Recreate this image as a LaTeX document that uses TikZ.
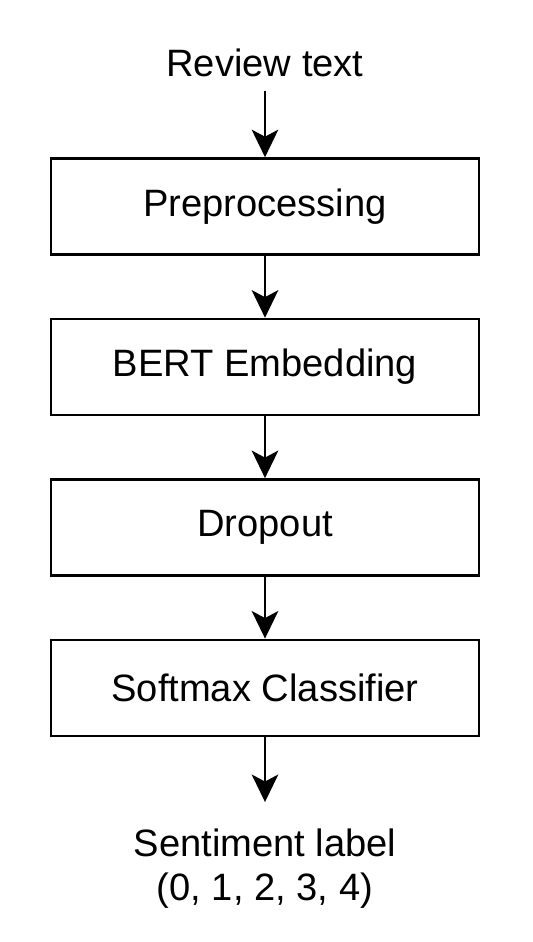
\documentclass[tikz,border=0pt]{standalone}
\usepackage{fontspec}
\setmainfont{Liberation Sans}
\usepackage{tikz}
\usetikzlibrary{positioning, arrows.meta}

\begin{document}
\begin{tikzpicture}
			[node distance=1.24cm, font=\fontsize{21.7}{25}\selectfont,
			stage/.style={draw, rectangle, line width=1.4pt, minimum width=8.56cm, minimum height=1.92cm, text centered},
			flow/.style={-{Stealth[length=5.5mm, width=5.3mm, inset=1.4mm]}, line width=1.4pt}]
			\useasboundingbox (0,0) rectangle (10.64,18.84);
			% nodes %
			\node[text centered] (review) at (5.3,17.58) {Review text};
			\node[stage, below=1.48cm of review] (prep) {Preprocessing};
			\node[stage, below=of prep] (bert) {BERT Embedding};
			\node[stage, below=of bert] (drop) {Dropout};
			\node[stage, below=of drop] (soft) {Softmax Classifier};
			\node[below=1.72cm of soft, align=center] (label) {Sentiment label\\(0, 1, 2, 3, 4)};

			% edges %
			\draw[flow, shorten <=0.15cm] (review) -- (prep);
			\draw[flow] (prep) -- (bert);
			\draw[flow] (bert) -- (drop);
			\draw[flow] (drop) -- (soft);
			\draw[flow, shorten >=0.42cm] (soft) -- (label);
\end{tikzpicture}
\end{document}
